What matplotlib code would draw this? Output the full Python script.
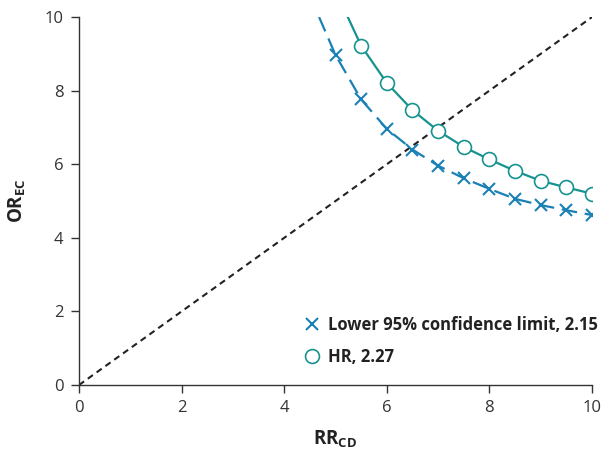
import matplotlib
matplotlib.use("Agg")
import matplotlib.pyplot as plt

plt.rcParams['font.family'] = ['Open Sans', 'DejaVu Sans']
plt.rcParams['mathtext.fontset'] = 'custom'
plt.rcParams['mathtext.bf'] = 'Open Sans:bold'
plt.rcParams['mathtext.rm'] = 'Open Sans'

# Data
hr_x = [5.24, 5.5, 6.0, 6.5, 7.0, 7.5, 8.0, 8.5, 9.0, 9.5, 10.0]
hr_y = [10.0, 9.22, 8.21, 7.47, 6.91, 6.47, 6.13, 5.82, 5.55, 5.37, 5.20]
low_x = [4.68, 5.0, 5.5, 6.0, 6.5, 7.0, 7.5, 8.0, 8.5, 9.0, 9.5, 10.0]
low_y = [10.0, 8.97, 7.76, 6.96, 6.40, 5.96, 5.62, 5.33, 5.06, 4.89, 4.75, 4.62]
diag = [0, 10]
ticks = [0, 2, 4, 6, 8, 10]
hr_label = 'HR, 2.27'
low_label = 'Lower 95% confidence limit, 2.15'

teal = '#17938f'
blue = '#1a80b5'

fig = plt.figure(figsize=(6.05, 4.49), dpi=100)
ax = fig.add_axes([0.1306, 0.1425, 0.8479, 0.8195])

ax.plot(diag, diag, color='#222222', lw=1.5, ls=(0, (3, 2.2)), zorder=1)
ax.plot(low_x, low_y, color=blue, lw=1.6, ls=(0, (7, 3.5)), zorder=2)
ax.plot(low_x[1:], low_y[1:], ls='none', marker='x', ms=9, mew=1.5,
        color=blue, zorder=3, label=low_label)
ax.plot(hr_x, hr_y, color=teal, lw=1.6, zorder=2)
ax.plot(hr_x[1:], hr_y[1:], ls='none', marker='o', ms=10, mew=1.2,
        mfc='white', mec=teal, zorder=4, label=hr_label)

ax.set_xlim(0, 10)
ax.set_ylim(0, 10)
ax.set_xticks(ticks)
ax.set_yticks(ticks)
for s in ['top', 'right']:
    ax.spines[s].set_visible(False)
for s in ['left', 'bottom']:
    ax.spines[s].set_color('#333333')
    ax.spines[s].set_linewidth(1.0)
ax.tick_params(direction='out', length=6, width=1.0, color='#333333',
               labelsize=12, labelcolor='#333333', pad=5)
ax.set_xlabel(r'$\mathbf{RR_{CD}}$', fontsize=13.5, color='#222222', labelpad=9)
ax.set_ylabel(r'$\mathbf{OR_{EC}}$', fontsize=13.5, color='#222222', labelpad=12)

leg = ax.legend(loc='lower right', frameon=False, handlelength=1.0,
                handletextpad=0.5, borderaxespad=0.3, labelspacing=0.85,
                prop={'weight': 'bold', 'size': 12}, bbox_to_anchor=(1.035, 0.02))
for t in leg.get_texts():
    t.set_color('#222222')

fig.savefig('out.png', dpi=100)
